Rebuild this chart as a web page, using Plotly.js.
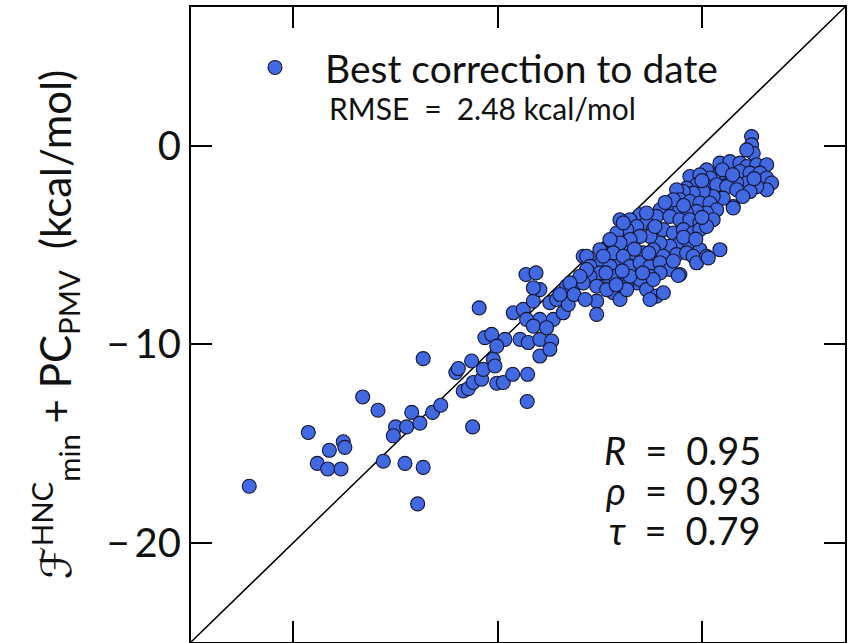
<!DOCTYPE html>
<html>
<head>
<meta charset="utf-8">
<script src="https://cdn.plot.ly/plotly-3.0.1.min.js"></script>
<style>html,body{margin:0;padding:0;background:#fff;}#chart{width:854px;height:643px;}</style>
</head>
<body>
<div id="chart"></div>
<script>
// Reference axis limits (also used for the y = x parity line)
const axisLimits = [-25, 7];
const tickValues = [-20, -10, 0];
const tickLabels = ["\u2212\u200920", "\u2212\u200910", "0"];

// Best correction to date: experimental (x) vs. corrected HNC (y), kcal/mol
const bestX = [
-22.15,-19.26,-18.82,-18.31,-17.66,-18.23,-17.55,-17.47,-16.60,-15.85,-15.59,-14.53,-13.64,-13.91,-13.64,-14.20,-14.99,-14.45,-13.80,-15.10,
-13.18,-12.78,-12.04,-11.92,-11.27,-11.68,-11.43,-11.19,-11.22,-10.78,-10.90,-10.70,-10.21,-10.13,-10.04,-9.72,-9.26,-8.53,-8.55,-10.62,
-10.29,-9.64,-10.04,-8.90,-8.50,-7.93,-7.35,-7.93,-7.44,-9.23,-8.74,-8.25,-7.93,-7.44,-7.93,-7.27,-8.58,-8.25,-7.60,-6.79,
-7.11,-6.54,-8.61,-8.12,-8.25,-6.62,-6.13,-5.64,-5.81,-5.32,-4.99,-4.66,-4.34,-4.01,-3.36,-3.68,-5.15,-4.50,-4.01,-4.34,
-5.15,-5.15,-4.01,-3.19,-3.68,-3.19,2.43,2.43,2.51,2.19,0.88,1.37,1.86,2.19,2.68,3.17,1.86,2.35,2.84,3.17,
3.41,3.17,2.68,2.19,1.70,1.21,0.88,0.55,0.23,0.39,-0.59,-0.10,-0.26,-0.75,0.23,0.72,1.21,1.70,2.35,1.53,
1.04,0.55,0.06,-0.43,-0.91,-1.24,-1.08,-0.59,-0.10,0.39,0.72,0.23,-0.26,-0.75,-1.24,-1.73,-2.05,-2.22,-1.57,-1.08,
-0.59,-0.10,0.55,-3.03,-3.52,-4.01,-2.71,-3.19,-3.68,-4.17,-2.38,-1.89,-1.40,-0.91,-0.43,-0.10,0.23,-1.08,-0.59,-0.10,
-1.57,-2.05,-2.54,-3.03,-3.52,-4.01,-4.50,-4.99,-4.34,-3.85,-2.87,-2.38,-1.89,-1.24,-0.75,-0.43,-0.26,0.23,0.88,-5.64,
-5.48,-4.50,-3.52,-3.03,-2.54,-2.05,-1.57,-1.08,-2.05,-2.54,-3.03,-3.52,-4.99,-5.48,-5.81,-5.15,-4.66,-3.68,-2.71,-2.22,
-1.89,-2.54,0.31,-1.16,1.53,-3.85,-2.30,-4.83,-5.64,-5.97,-6.46,-4.26,-2.38,-6.26,-6.95,-5.71,-1.40,-2.71,
1.00,1.50,2.55,2.00,0.00,-1.80,-0.90,0.00,-3.30,-2.60,-1.40,-4.70,-3.90,-2.90,-4.20,-0.90,-0.30
];
const bestY = [
-17.15,-14.44,-16.00,-16.28,-16.28,-15.34,-14.91,-15.19,-12.65,-13.32,-15.89,-16.00,-16.20,-18.04,-10.72,-13.43,-14.16,-14.16,-13.97,-14.61,
-13.43,-13.07,-11.42,-11.22,-10.84,-12.35,-12.23,-11.92,-14.16,-11.76,-8.16,-11.26,-10.75,-11.09,-11.96,-11.92,-11.51,-11.51,-12.88,-9.66,
-9.50,-9.75,-10.09,-9.75,-9.91,-9.75,-9.83,-10.59,-10.25,-8.41,-8.24,-7.82,-7.24,-7.90,-8.74,-8.74,-8.74,-9.08,-9.16,-8.41,
-7.74,-7.99,-6.48,-6.40,-7.15,-7.07,-6.90,-6.40,-5.56,-5.89,-5.98,-5.23,-4.89,-5.73,-5.39,-5.06,-6.57,-6.73,-6.57,-7.40,
-7.82,-8.49,-7.74,-6.90,-7.07,-6.40,0.47,0.05,-0.37,-0.20,-0.87,-0.79,-0.87,-1.04,-0.95,-0.95,-1.29,-1.37,-1.37,-1.62,
-1.87,-2.21,-2.05,-1.87,-1.87,-1.54,-1.37,-1.54,-1.21,-1.62,-1.54,-1.46,-1.96,-2.13,-2.05,-1.96,-2.05,-2.21,-2.30,-3.05,
-2.63,-2.55,-2.30,-2.38,-2.30,-2.21,-2.71,-2.80,-2.88,-2.88,-3.22,-3.38,-3.30,-3.38,-3.13,-3.05,-3.22,-3.55,-3.55,-3.72,
-3.72,-3.88,-3.72,-3.47,-3.72,-3.72,-3.88,-4.06,-4.22,-4.39,-4.22,-4.22,-4.39,-4.22,-4.39,-4.22,-4.06,-4.89,-5.06,-5.23,
-5.06,-4.89,-4.56,-4.56,-4.72,-4.89,-4.72,-5.23,-5.39,-5.56,-5.39,-5.23,-5.56,-5.48,-5.39,-5.56,-5.89,-5.56,-5.23,-5.56,
-6.07,-6.07,-6.07,-5.89,-6.07,-5.89,-6.23,-6.48,-6.40,-6.57,-6.73,-6.57,-6.40,-6.57,-6.90,-7.07,-7.24,-7.24,-7.24,-7.57,
-7.40,-7.74,-5.64,-6.53,-3.13,-3.88,-4.06,-5.56,-6.23,-6.57,-6.90,-6.57,-6.73,-7.49,-7.49,-7.74,-2.71,-3.38,
-1.20,-1.45,-1.65,-2.55,-1.75,-2.85,-3.00,-3.60,-5.20,-5.40,-5.80,-6.40,-6.30,-6.40,-7.00,-4.60,-4.70
];

const seriesName = "Best correction to date";
const rmseText = "RMSE\u2002=\u20022.48 kcal/mol";
const statLabels = ["<i>R</i>\u2002=\u20020.95", "<i>\u03C1</i>\u2002=\u20020.93", "<i>\u03C4</i>\u2002=\u20020.79"];
const statY = [0.3024, 0.2394, 0.1764];

const FONT = "Lato, 'Open Sans', 'DejaVu Sans', sans-serif";

const traces = [
  {
    x: axisLimits, y: axisLimits, mode: "lines", type: "scatter",
    line: {color: "#000", width: 1.5}, showlegend: false, hoverinfo: "skip"
  },
  {
    x: bestX, y: bestY, mode: "markers", type: "scatter", name: seriesName,
    marker: {color: "#4169E1", size: 14, line: {color: "#141430", width: 1.1}}
  }
];

const axisCommon = {
  range: axisLimits, tickvals: tickValues, ticktext: tickLabels,
  ticks: "inside", ticklen: 21, tickwidth: 2, tickcolor: "#000",
  showline: true, linecolor: "#000", linewidth: 2, mirror: "ticks",
  showgrid: false, zeroline: false, fixedrange: true
};

const annotations = [
  {xref: "paper", yref: "paper", x: 0.208, y: 0.8417, xanchor: "left", yanchor: "middle",
   text: rmseText, showarrow: false, font: {family: FONT, size: 30, color: "#111"}}
];
statLabels.forEach((t, i) => annotations.push({
  xref: "paper", yref: "paper", x: 0.8746, y: statY[i], xanchor: "right", yanchor: "middle",
  text: t, showarrow: false, font: {family: FONT, size: 38, color: "#111"}
}));

const layout = {
  width: 854, height: 643,
  margin: {l: 191, r: 9, t: 7, b: 1, pad: 0},
  paper_bgcolor: "#fff", plot_bgcolor: "#fff",
  font: {family: FONT, color: "#111"},
  showlegend: true,
  legend: {x: 0.052, y: 0.955, xanchor: "left", yanchor: "top", bgcolor: "rgba(0,0,0,0)",
           borderwidth: 0, itemwidth: 90, font: {family: FONT, size: 39, color: "#111"}},
  xaxis: Object.assign({}, axisCommon, {showticklabels: false}),
  yaxis: Object.assign({}, axisCommon, {
    showticklabels: true, tickfont: {family: FONT, size: 40, color: "#111"},
    ticklabelstandoff: 0,
    title: {text: "\u2002\u2131<sup>HNC</sup><sub>min</sub> + PC<sub>PMV</sub>\u2002(kcal/mol)",
            font: {family: FONT, size: 42, color: "#111"}, standoff: 22}
  }),
  annotations: annotations
};

Plotly.newPlot("chart", traces, layout, {displayModeBar: false, staticPlot: true});
</script>
</body>
</html>
